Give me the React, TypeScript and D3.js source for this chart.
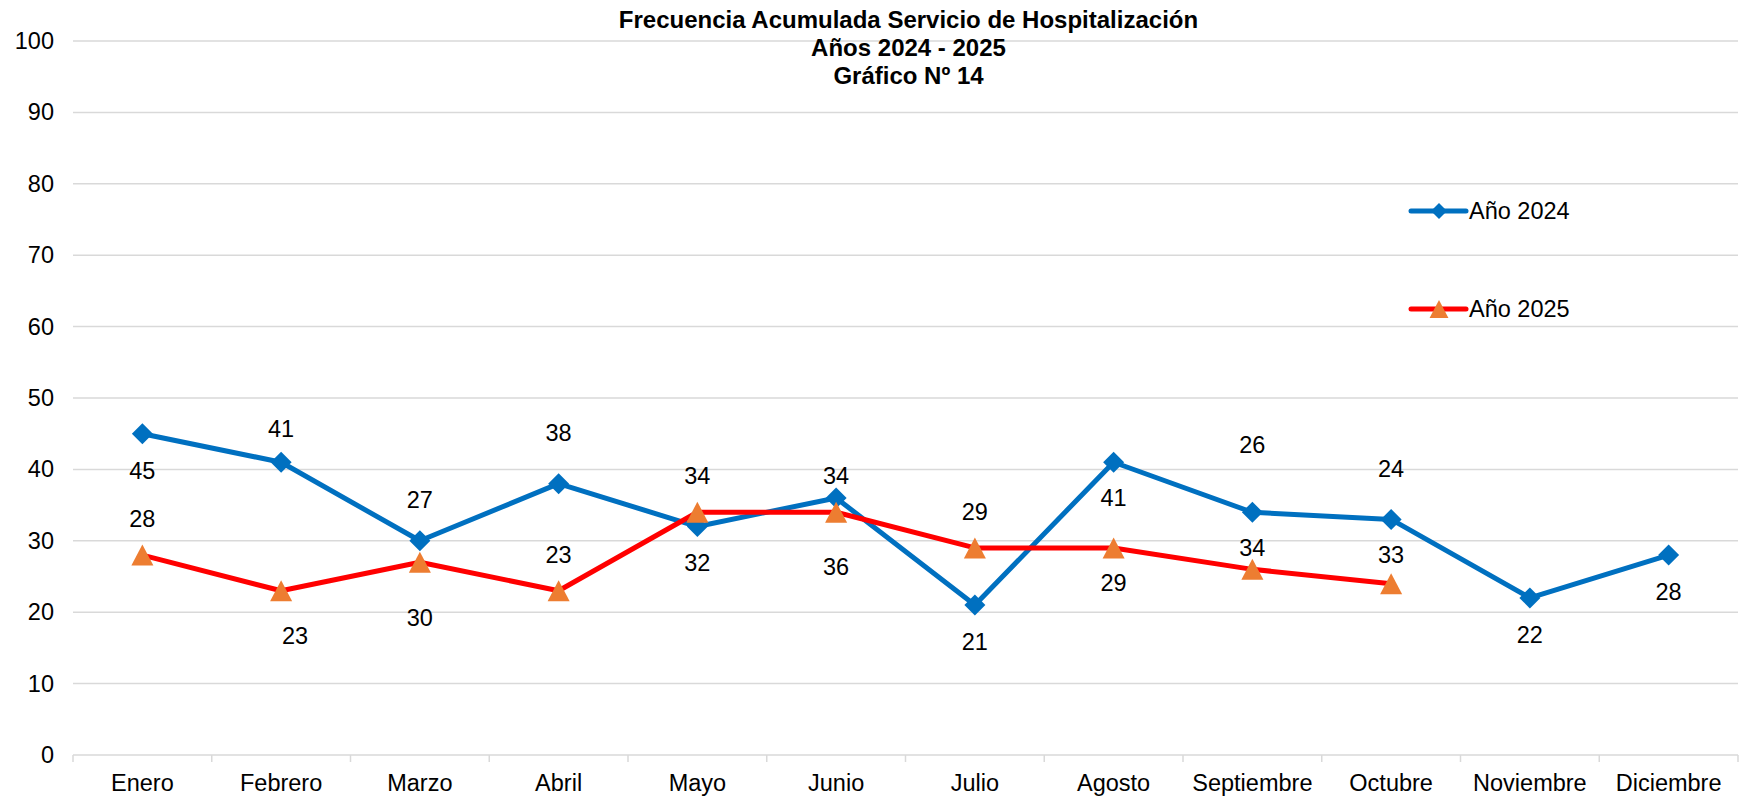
import React from "react";
import * as d3 from "d3";

// categorías y series
const months = [
  "Enero", "Febrero", "Marzo", "Abril", "Mayo", "Junio",
  "Julio", "Agosto", "Septiembre", "Octubre", "Noviembre", "Diciembre",
];
const values2024 = [45, 41, 30, 38, 32, 36, 21, 41, 34, 33, 22, 28];
const values2025 = [28, 23, 27, 23, 34, 34, 29, 29, 26, 24];
const yTicks = [0, 10, 20, 30, 40, 50, 60, 70, 80, 90, 100];
const titleLines = [
  "Frecuencia Acumulada Servicio de Hospitalización",
  "Años 2024 - 2025",
  "Gráfico Nº 14",
];
const seriesNames = ["Año 2024", "Año 2025"];

// label placement as in the original sheet (pixels from the marker)
const labelDy2024 = [37, -33, 77, -51, 36, 69, 37, 36, 36, 36, 37, 37];
const labelDy2025 = [-36, 45, -62, -36, -36, -36, -36, 35, -124, -115];
const labelDx2025 = [0, 14, 0, 0, 0, 0, 0, 0, 0, 0];

const W = 1740;
const H = 798;
const margin = { top: 41, right: 2, bottom: 43, left: 73 };
const FONT = "'Liberation Sans', Arial, sans-serif";
const FS = 23.5;

const BLUE = "#0070C0";
const RED = "#FF0000";
const ORANGE = "#ED7D31";
const GRID = "#D9D9D9";

const diamond = (r: number) => `M0,${-r}L${r},0L0,${r}L${-r},0Z`;
const triangle = (r: number) => `M0,${-r}L${r * 1.05},${r}L${-r * 1.05},${r}Z`;

export default function App() {
  const x = d3
    .scaleBand<string>()
    .domain(months)
    .range([margin.left, W - margin.right]);
  const y = d3
    .scaleLinear()
    .domain([0, 100])
    .range([H - margin.bottom, margin.top]);

  const cx = (i: number) => (x(months[i]) as number) + x.bandwidth() / 2;

  const line = d3
    .line<number>()
    .x((_, i) => cx(i))
    .y((d) => y(d));

  const bottom = y(0);
  const edges = months.map((m) => x(m) as number).concat([W - margin.right]);
  const titleX = (margin.left + W - margin.right) / 2 + 3;

  return (
    <svg
      width={W}
      height={H}
      style={{ position: "absolute", left: 0, top: 0, background: "#fff" }}
      fontFamily={FONT}
    >
      <rect width={W} height={H} fill="#fff" />

      {/* grid + y axis labels */}
      {yTicks.map((t) => (
        <g key={t}>
          <line
            x1={margin.left}
            x2={W - margin.right}
            y1={y(t)}
            y2={y(t)}
            stroke={GRID}
            strokeWidth={1.5}
          />
          <text
            x={54}
            y={y(t)}
            textAnchor="end"
            dominantBaseline="central"
            fontSize={FS}
            fill="#000"
          >
            {t}
          </text>
        </g>
      ))}

      {/* x axis ticks */}
      {edges.map((e, i) => (
        <line
          key={i}
          x1={e}
          x2={e}
          y1={bottom}
          y2={bottom + 7}
          stroke={GRID}
          strokeWidth={1.5}
        />
      ))}
      {months.map((m, i) => (
        <text
          key={m}
          x={cx(i)}
          y={783}
          textAnchor="middle"
          dominantBaseline="central"
          fontSize={FS}
          fill="#000"
        >
          {m}
        </text>
      ))}

      {/* title */}
      {titleLines.map((t, i) => (
        <text
          key={t}
          x={titleX}
          y={19 + i * 28}
          textAnchor="middle"
          dominantBaseline="central"
          fontSize={24}
          fontWeight="bold"
          fill="#000"
        >
          {t}
        </text>
      ))}

      {/* series lines */}
      <path
        d={line(values2024) || ""}
        fill="none"
        stroke={BLUE}
        strokeWidth={5}
        strokeLinejoin="round"
        strokeLinecap="round"
      />
      <path
        d={line(values2025) || ""}
        fill="none"
        stroke={RED}
        strokeWidth={5}
        strokeLinejoin="round"
        strokeLinecap="round"
      />

      {/* markers */}
      {values2024.map((v, i) => (
        <path
          key={"d" + i}
          d={diamond(10.5)}
          transform={`translate(${cx(i)},${y(v)})`}
          fill={BLUE}
        />
      ))}
      {values2025.map((v, i) => (
        <path
          key={"t" + i}
          d={triangle(10.5)}
          transform={`translate(${cx(i)},${y(v)})`}
          fill={ORANGE}
        />
      ))}

      {/* data labels */}
      {values2024.map((v, i) => (
        <text
          key={"l4" + i}
          x={cx(i)}
          y={y(v) + labelDy2024[i]}
          textAnchor="middle"
          dominantBaseline="central"
          fontSize={FS}
          fill="#000"
        >
          {v}
        </text>
      ))}
      {values2025.map((v, i) => (
        <text
          key={"l5" + i}
          x={cx(i) + labelDx2025[i]}
          y={y(v) + labelDy2025[i]}
          textAnchor="middle"
          dominantBaseline="central"
          fontSize={FS}
          fill="#000"
        >
          {v}
        </text>
      ))}

      {/* legend */}
      {seriesNames.map((name, i) => {
        const ly = i === 0 ? 211 : 309;
        return (
          <g key={name}>
            <line
              x1={1411}
              x2={1466}
              y1={ly}
              y2={ly}
              stroke={i === 0 ? BLUE : RED}
              strokeWidth={5}
              strokeLinecap="round"
            />
            <path
              d={i === 0 ? diamond(8) : triangle(9)}
              transform={`translate(1439,${ly})`}
              fill={i === 0 ? BLUE : ORANGE}
            />
            <text
              x={1469}
              y={ly}
              dominantBaseline="central"
              fontSize={FS}
              fill="#000"
            >
              {name}
            </text>
          </g>
        );
      })}
    </svg>
  );
}
